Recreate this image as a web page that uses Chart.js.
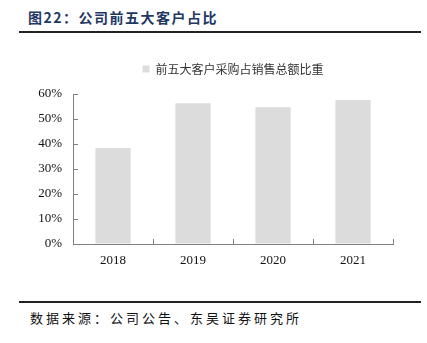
<!DOCTYPE html>
<html>
<head>
<meta charset="utf-8">
<script src="https://cdn.jsdelivr.net/npm/chart.js@4"></script>
<style>
  html, body { margin: 0; padding: 0; background: #fff; }
  body { width: 427px; height: 343px; position: relative; overflow: hidden; }
  .title {
    position: absolute; left: 28px; top: 7px;
    font: bold 14px "Noto Sans CJK SC", sans-serif;
    color: #1f3864; letter-spacing: 1.5px; white-space: nowrap;
  }
  .rule { position: absolute; left: 19px; width: 402px; height: 1.5px; background: #222; }
  .source {
    position: absolute; left: 30px; top: 308px;
    font: 13px "Noto Sans CJK SC", sans-serif; color: #111; white-space: nowrap;
    letter-spacing: 3px;
  }
  #wrap { position: absolute; left: 0; top: 30px; width: 427px; height: 260px; }
</style>
</head>
<body>
<div class="title">图22：公司前五大客户占比</div>
<div class="rule" style="top:31px"></div>
<div id="wrap"><canvas id="chart"></canvas></div>
<div class="rule" style="top:301px"></div>
<div class="source">数据来源：公司公告、东吴证券研究所</div>

<script>
// top-5 customers share of total sales, by year
const years = ["2018", "2019", "2020", "2021"];
const shareLabel = "前五大客户采购占销售总额比重";
const shareValues = [38.4, 56.3, 54.7, 57.6];
const yTicks = [0, 10, 20, 30, 40, 50, 60];

const AXIS = "#808080";
const BAR = "#dcdcdc";
const SERIF = '"Liberation Serif", "Times New Roman", serif';

// short tick marks drawn inward from the axes
const innerTicks = {
  id: "innerTicks",
  afterDraw(chart) {
    const { ctx, chartArea, scales } = chart;
    const x = scales.x, y = scales.y;
    const step = x.getPixelForTick(1) - x.getPixelForTick(0);
    ctx.save();
    ctx.strokeStyle = AXIS;
    ctx.lineWidth = 1;
    ctx.beginPath();
    yTicks.forEach(v => {
      const py = Math.round(y.getPixelForValue(v)) + 0.5;
      ctx.moveTo(chartArea.left, py);
      ctx.lineTo(chartArea.left + 5, py);
    });
    for (let i = 0; i <= years.length; i++) {
      const px = Math.round(x.getPixelForTick(0) + (i - 0.5) * step) + 0.5;
      ctx.moveTo(px, chartArea.bottom);
      ctx.lineTo(px, chartArea.bottom - 5);
    }
    ctx.stroke();
    ctx.restore();
  }
};

// extra room under the legend, and legend centred over the plot area
const legendPlacement = {
  id: "legendPlacement",
  afterInit(chart) {
    const lg = chart.legend;
    const fit = lg.fit.bind(lg);
    lg.fit = function () { fit(); this.height += 9; };
  },
  afterLayout(chart) {
    const lg = chart.legend, area = chart.chartArea;
    lg.left = area.left;
    lg.right = area.right;
    lg.width = area.right - area.left;
  }
};

new Chart(document.getElementById("chart"), {
  type: "bar",
  data: {
    labels: years,
    datasets: [{
      label: shareLabel,
      data: shareValues,
      backgroundColor: BAR,
      borderWidth: 0,
      categoryPercentage: 1,
      barPercentage: 0.44,
    }],
  },
  options: {
    responsive: true,
    maintainAspectRatio: false,
    animation: false,
    layout: { padding: { top: 4, right: 34, bottom: 0, left: 0 } },
    plugins: {
      tooltip: { enabled: false },
      legend: {
        position: "top",
        labels: {
          boxWidth: 7,
          boxHeight: 7,
          padding: 29,
          color: "#333",
          font: { family: '"Noto Sans CJK SC", sans-serif', size: 12 },
        },
      },
    },
    scales: {
      x: {
        grid: { display: true, drawOnChartArea: false, drawTicks: false },
        border: { display: true, color: AXIS, width: 1 },
        ticks: { color: "#111", padding: 9, font: { family: SERIF, size: 13 } },
        afterFit: (s) => { s.height = 46; },
      },
      y: {
        min: 0,
        max: 60,
        grid: { display: true, drawOnChartArea: false, drawTicks: false },
        border: { display: true, color: AXIS, width: 1 },
        ticks: {
          stepSize: 10,
          color: "#111",
          padding: 11,
          font: { family: SERIF, size: 13 },
          callback: (v) => v + "%",
        },
        afterFit: (s) => { s.width = 73; },
      },
    },
  },
  plugins: [innerTicks, legendPlacement],
});
</script>
</body>
</html>
